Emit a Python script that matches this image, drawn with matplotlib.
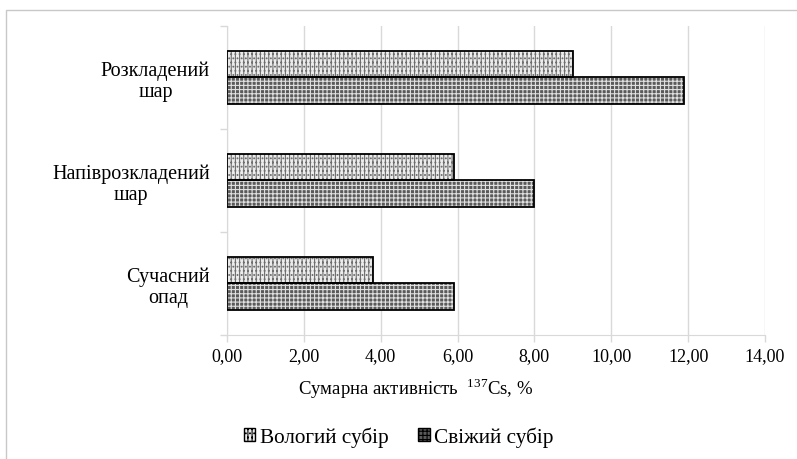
import matplotlib
matplotlib.use("Agg")
import matplotlib.pyplot as plt
from matplotlib.patches import Rectangle, Patch
import matplotlib.transforms as mtransforms
import numpy as np

plt.rcParams['font.family'] = ['Liberation Serif', 'DejaVu Serif']
plt.rcParams['mathtext.fontset'] = 'custom'
plt.rcParams['mathtext.rm'] = 'Liberation Serif'
plt.rcParams['hatch.linewidth'] = 0.8

categories = ["Сучасний\nопад", "Напіврозкладений\nшар", "Розкладений\nшар"]
series_names = ["Вологий субір", "Свіжий субір"]
vologyi = [3.8, 5.9, 9.0]
svizhyi = [5.9, 8.0, 11.9]
xticks = [0, 2, 4, 6, 8, 10, 12, 14]
xticklabels = ["0,00", "2,00", "4,00", "6,00", "8,00", "10,00", "12,00", "14,00"]

fig = plt.figure(figsize=(7.97, 4.60), dpi=100)
ax = fig.add_axes([0.2848, 0.2696, 0.675, 0.6717])

# figure border
fig.patches.append(Rectangle((0.008, -0.01), 1.0, 0.986, transform=fig.transFigure,
                             fill=False, edgecolor='#c8c8c8', linewidth=1.0))

y = np.arange(len(categories))
h = 0.26

# Вологий: light dotted vertical pattern
ax.barh(y + h/2, vologyi, height=h, color='#ececec', edgecolor='#6e6e6e',
        hatch='||||....', linewidth=0, zorder=2)
ax.barh(y + h/2, vologyi, height=h, fill=False, edgecolor='black', linewidth=1.3, zorder=3)
# Свіжий: dark dotted pattern
ax.barh(y - h/2, svizhyi, height=h, color='#5a5a5a', edgecolor='#e0e0e0',
        hatch='++++', linewidth=0, zorder=2)
ax.barh(y - h/2, svizhyi, height=h, fill=False, edgecolor='black', linewidth=1.3, zorder=3)

ax.set_xlim(0, 14)
ax.set_ylim(-0.5, 2.5)
ax.set_xticks(xticks)
ax.set_xticklabels(xticklabels, fontsize=13)
ax.tick_params(axis='x', length=5, color='#d9d9d9', width=1, pad=4)
ax.grid(axis='x', color='#d9d9d9', linewidth=1.0, zorder=0)
ax.set_axisbelow(True)

ax.set_yticks([-0.5, 0.5, 1.5, 2.5])
ax.set_yticklabels([])
ax.tick_params(axis='y', length=5, color='#d9d9d9', width=1)
trans = mtransforms.blended_transform_factory(ax.transAxes, ax.transData)
trans = mtransforms.offset_copy(trans, fig=fig, x=-17, y=-3, units='dots')
for i, c in enumerate(categories):
    ax.text(0, i, c, ha='right', va='center', multialignment='center',
            fontsize=14.5, transform=trans, linespacing=1.15)

for s in ['top', 'right']:
    ax.spines[s].set_visible(False)
ax.spines['left'].set_color('#d9d9d9')
ax.spines['bottom'].set_color('#d9d9d9')

fig.text(0.521, 0.156, "Сумарна активність  $^{137}$Cs, %", fontsize=13.5,
         ha='center', va='center')

handles = [Patch(facecolor='#ececec', edgecolor='black', hatch='||||....'),
           Patch(facecolor='#5a5a5a', edgecolor='black', hatch='++++')]
fig.legend(handles, series_names, loc='center', bbox_to_anchor=(0.5, 0.048),
           ncol=2, frameon=False, fontsize=15.3, handlelength=0.55, handleheight=0.55,
           handletextpad=0.2, columnspacing=1.4)

fig.savefig("out.png", dpi=100)
